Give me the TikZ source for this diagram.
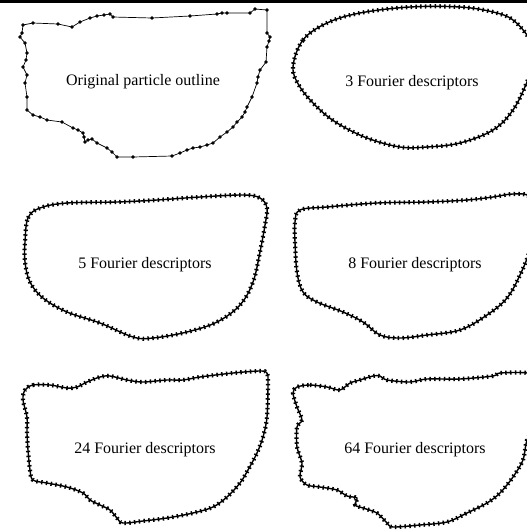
\documentclass[tikz,border=0pt]{standalone}
\usepackage{fontspec}
\setmainfont{Liberation Serif}
\tikzset{
  beaded/.style={line width=1.4pt, black, line join=round,
    postaction={draw, black, line width=4.2pt, dash pattern=on 1.5pt off 3.3pt}},
  outline/.style={line width=0.7pt, black},
  lbl/.style={font=\fontsize{16}{18}\selectfont, inner sep=0pt}
}
\begin{document}
\begin{tikzpicture}[x=1pt,y=-1pt]
\useasboundingbox (0,0) rectangle (527,531);
\clip (0,0) rectangle (527,531);
\fill[black] (0,0) rectangle (527,2.6);
% original outline
\draw[outline] plot[sharp cycle, mark=*, mark size=1.3pt] coordinates {
(23,25) (33,23) (58,24) (72,27) (80,22) (90,18) (97,16) (104,15) (110,14) (113,17) (152,18) (190,16) (217,14) (222,13) (227,13) (250,13) (255,9) (267,10)
(267,33) (270,37) (269,41) (267,47) (266,62) (260,70) (258,77) (257,83) (252,97) (247,107) (245,112) (242,117) (237,122) (233,127) (227,132) (220,137) (213,143) (207,145) (200,147) (193,148) (187,150) (180,153) (172,156)
(133,157) (117,157) (112,152) (107,148) (97,143) (92,139) (88,140) (85,142) (84,137) (83,133) (78,130) (73,128) (62,122) (47,120) (40,117) (33,115) (27,110)
(27,97) (25,83) (27,75) (23,67) (26,60) (27,53) (25,43) (20,37) (22,33)};
\node[lbl] (t1) at (143,82) {Original particle outline};
% 3 descriptors
\draw[beaded] plot[smooth cycle, tension=0.6] coordinates {
(293,67) (303,40) (327,23) (360,13) (410,7) (460,7) (493,12) (513,20) (530,40) (534,60) (527,82) (513,110) (493,130) (460,143) (427,147) (400,147) (367,138) (337,123) (317,107) (300,87)};
\node[lbl] (t2) at (412,83) {3 Fourier descriptors};
% 5 descriptors
\draw[beaded] plot[smooth cycle, tension=0.6] coordinates {
(25,242) (28,218) (40,208) (67,203) (117,202) (157,200) (200,197) (243,195) (260,198) (267,208) (265,225) (260,252) (253,282) (240,305) (217,322) (187,332) (153,338) (133,337) (100,323) (67,312) (43,298) (30,282) (25,262)};
\node[lbl] (t3) at (145,265) {5 Fourier descriptors};
% 8 descriptors
\draw[beaded] plot[smooth cycle, tension=0.6] coordinates {
(300,210) (327,207) (377,203) (427,202) (467,200) (493,197) (513,194) (530,197) (537,220) (530,250) (520,275) (507,298) (487,315) (460,330) (427,335) (400,338) (380,335) (363,322) (343,312) (317,302) (303,292) (297,272) (295,242) (295,222)};
\node[lbl] (t4) at (415,265) {8 Fourier descriptors};
% 24 descriptors
\draw[beaded] plot[smooth cycle, tension=0.55] coordinates {
(25,390) (33,385) (50,385) (67,388) (77,387) (87,382) (100,377) (110,376) (127,380) (143,382) (167,380) (183,380) (200,377) (233,373) (260,371) (267,373) (268,383) (267,417) (263,437) (257,453) (248,470) (240,483) (227,497) (213,507) (193,513) (167,518) (143,521) (123,523) (117,518) (110,510) (100,505) (90,500) (83,493) (67,487) (47,483) (33,480) (30,470) (28,450) (27,433) (27,417) (23,400)};
\node[lbl] (t5) at (145,450) {24 Fourier descriptors};
% 64 descriptors
\draw[beaded] plot[smooth cycle, tension=0.5] coordinates {
(297,387) (310,385) (327,387) (340,390) (350,383) (360,380) (373,376) (380,376) (387,380) (410,382) (427,379) (460,379) (493,376) (500,373) (527,373) (535,380) (537,420) (527,440) (523,460) (513,477) (500,493) (487,503) (467,513) (447,522) (420,525) (393,527) (387,523) (377,513) (363,508) (355,505) (357,498) (347,496) (337,490) (320,487) (307,485) (300,477) (302,463) (297,447) (297,427) (302,420) (297,407) (293,393)};
\node[lbl] (t6) at (415,450) {64 Fourier descriptors};
\end{tikzpicture}
\end{document}
